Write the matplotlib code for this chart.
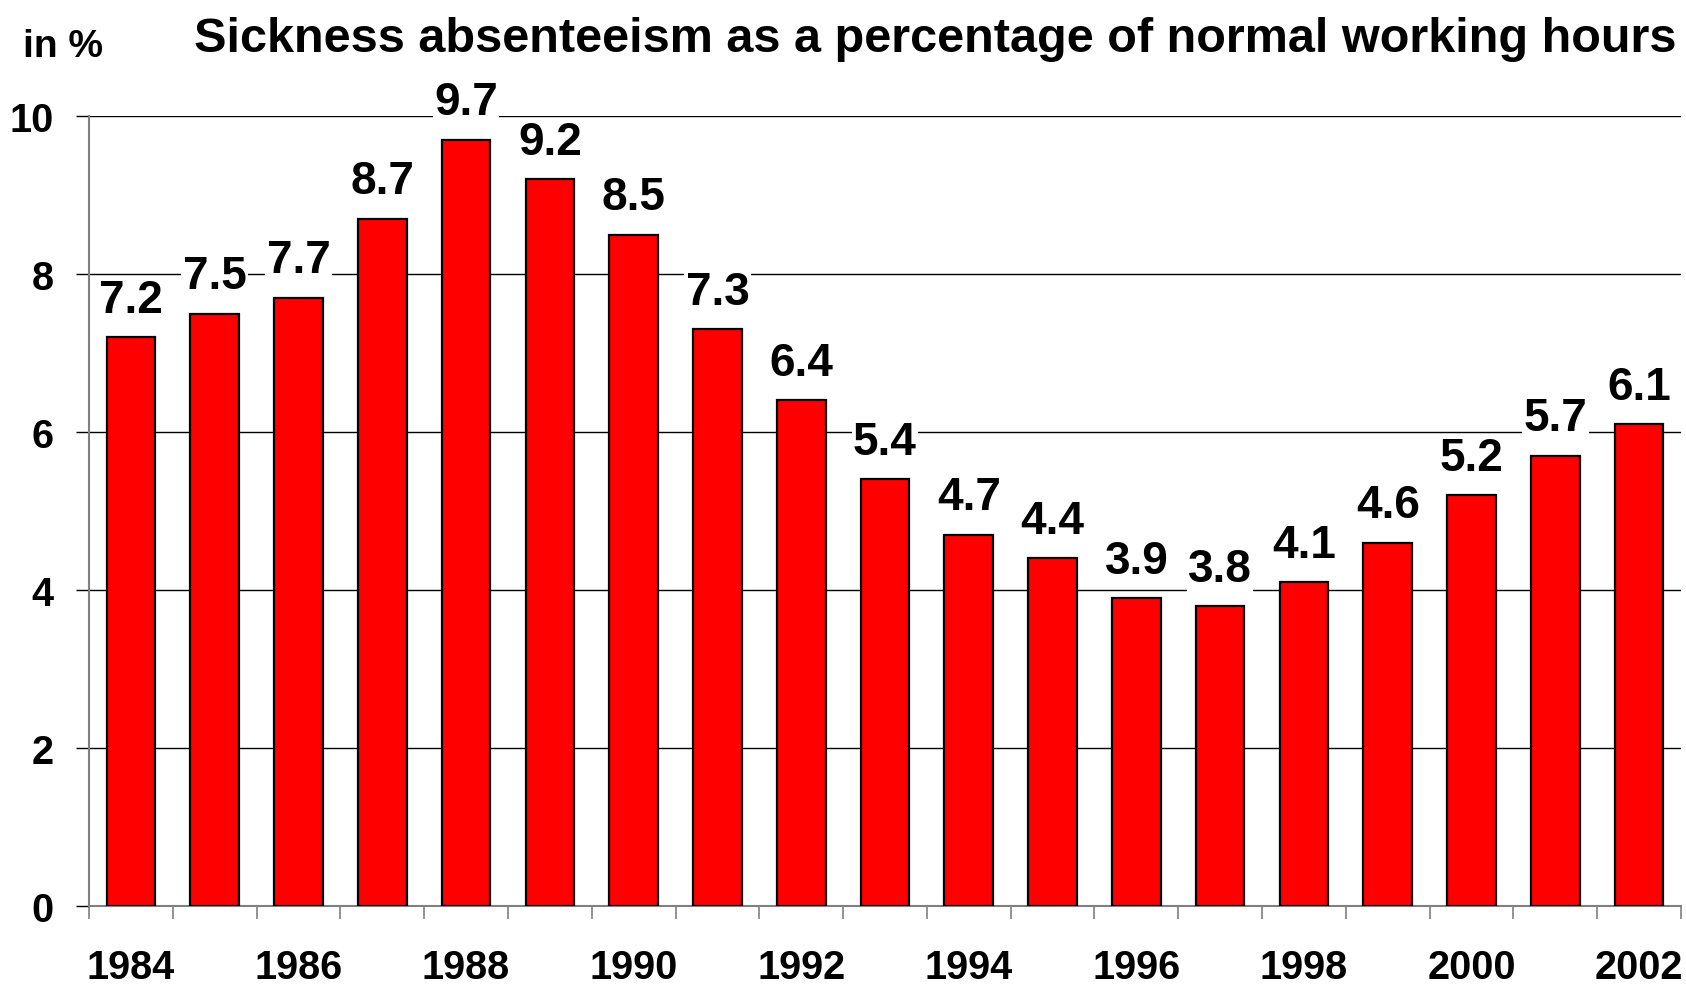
import matplotlib
matplotlib.use("Agg")
import matplotlib.pyplot as plt
import numpy as np

years = list(range(1984, 2003))
values = [7.2, 7.5, 7.7, 8.7, 9.7, 9.2, 8.5, 7.3, 6.4, 5.4, 4.7, 4.4, 3.9, 3.8, 4.1, 4.6, 5.2, 5.7, 6.1]
yticks = [0, 2, 4, 6, 8, 10]
title = "Sickness absenteeism as a percentage of normal working hours"
ylabel = "in %"

plt.rcParams['font.family'] = ['Liberation Sans', 'DejaVu Sans']
plt.rcParams['font.weight'] = 'bold'

W, H = 1686, 987
fig = plt.figure(figsize=(W / 100, H / 100), dpi=100)
L, R, B, T = 89, 1681, 907, 117
ax = fig.add_axes([L / W, 1 - B / H, (R - L) / W, (B - T) / H])

x = np.arange(len(years))
ax.bar(x, values, width=0.58, color='#ff0000', edgecolor='black', linewidth=1.6, zorder=3)
ax.set_xlim(-0.5, len(years) - 0.5)
ax.set_ylim(0, 10)
ax.set_yticks(yticks)
ax.set_yticklabels([str(t) for t in yticks], fontsize=28.5, fontweight='bold')
ax.yaxis.grid(True, color='black', linewidth=1.0, zorder=0)
ax.set_axisbelow(True)

# x: labels at category centres (every second year), marks between categories
ax.set_xticks(x)
ax.set_xticklabels([str(y) if i % 2 == 0 else "" for i, y in enumerate(years)],
                   fontsize=28.5, fontweight='bold')
ax.tick_params(axis='x', which='major', length=0, pad=30)
ax.set_xticks(np.arange(-0.5, len(years) + 0.5, 1.0), minor=True)
ax.tick_params(axis='x', which='minor', length=9.4, width=1.2, color='#808080', direction='out')
ax.tick_params(axis='y', length=9.4, width=1.0, color='black', pad=16)

for s in ['top', 'right']:
    ax.spines[s].set_visible(False)
ax.spines['left'].set_color('#808080')
ax.spines['left'].set_linewidth(1.5)
ax.spines['bottom'].set_color('#808080')
ax.spines['bottom'].set_linewidth(1.5)

for xi, v in zip(x, values):
    ax.annotate(f"{v:.1f}", (xi, v), xytext=(0, 11), textcoords='offset points',
                ha='center', va='bottom', fontsize=33, fontweight='bold', zorder=4,
                bbox=dict(facecolor='white', edgecolor='none', pad=1))

fig.text(935 / W, 1 - 39 / H, title, ha='center', va='center', fontsize=35, fontweight='bold')
fig.text(23 / W, 1 - 47 / H, ylabel, ha='left', va='center', fontsize=28, fontweight='bold')

fig.savefig('out.png', dpi=100)
